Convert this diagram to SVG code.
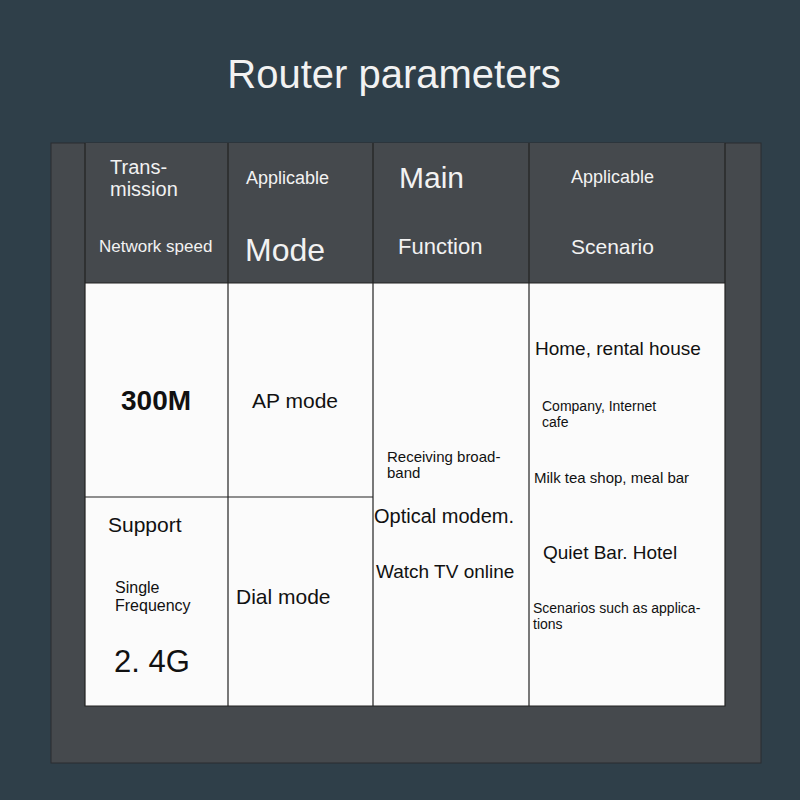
<svg xmlns="http://www.w3.org/2000/svg" width="800" height="800" viewBox="0 0 800 800">
<style>
.h{fill:#f2f2f2;font-family:"Liberation Sans",Arial,sans-serif}
.b{fill:#111;font-family:"Liberation Sans",Arial,sans-serif}
.ln{stroke:#222;stroke-width:1.2;fill:none}
</style>
<rect width="800" height="800" fill="#2f3f49"/>
<text class="h" x="394" y="88" font-size="40" text-anchor="middle">Router parameters</text>
<rect x="51" y="143" width="710" height="620" fill="#45494d" stroke="#2a2d30"/>
<rect x="85" y="143" width="640" height="140" fill="#45494d"/>
<rect x="85" y="283" width="640" height="423" fill="#fbfbfb"/>
<g id="connectors">
<path class="ln" d="M85 143V706H725V143M85 283H725M228 143V706M373 143V706M529 143V706M85 497H373"/>
</g>
<g id="header">
<text class="h" x="110" y="174" font-size="20">Trans-</text>
<text class="h" x="110" y="196" font-size="20">mission</text>
<text class="h" x="99" y="252" font-size="17">Network speed</text>
<text class="h" x="246" y="184" font-size="18">Applicable</text>
<text class="h" x="245" y="261" font-size="32">Mode</text>
<text class="h" x="399" y="188" font-size="30">Main</text>
<text class="h" x="398" y="254" font-size="22">Function</text>
<text class="h" x="571" y="183" font-size="18">Applicable</text>
<text class="h" x="571" y="254" font-size="21">Scenario</text>
</g>
<g id="speed">
<text class="b" x="121" y="410" font-size="28" font-weight="bold" font-family="DejaVu Sans Mono">300M</text>
<text class="b" x="108" y="532" font-size="21">Support</text>
<text class="b" x="115" y="593" font-size="16">Single</text>
<text class="b" x="115" y="611" font-size="16">Frequency</text>
<text class="b" x="114" y="672" font-size="31" font-family="DejaVu Sans Mono">2. 4G</text>
</g>
<g id="mode">
<text class="b" x="252" y="408" font-size="21">AP mode</text>
<text class="b" x="236" y="604" font-size="21">Dial mode</text>
</g>
<g id="function">
<text class="b" x="387" y="462" font-size="15">Receiving broad-</text>
<text class="b" x="387" y="478" font-size="15">band</text>
<text class="b" x="374" y="523" font-size="20">Optical modem.</text>
<text class="b" x="376" y="578" font-size="19">Watch TV online</text>
</g>
<g id="scenario">
<text class="b" x="535" y="355" font-size="19">Home, rental house</text>
<text class="b" x="542" y="411" font-size="14">Company, Internet</text>
<text class="b" x="542" y="427" font-size="14">cafe</text>
<text class="b" x="534" y="483" font-size="15">Milk tea shop, meal bar</text>
<text class="b" x="543" y="559" font-size="19">Quiet Bar. Hotel</text>
<text class="b" x="533" y="613" font-size="14">Scenarios such as applica-</text>
<text class="b" x="533" y="629" font-size="14">tions</text>
</g>
</svg>
